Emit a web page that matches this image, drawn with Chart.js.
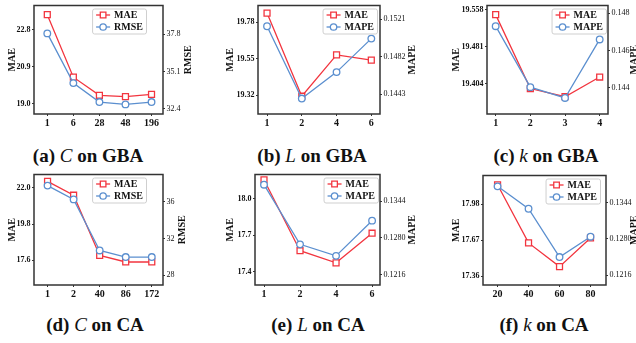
<!DOCTYPE html>
<html lang="en">
<head>
<meta charset="UTF-8" />
<title>Parameter sensitivity</title>
<script src="https://cdn.jsdelivr.net/npm/chart.js"></script>
<style>
  html, body { margin: 0; padding: 0; background: #fff; }
  body { width: 636px; height: 343px; position: relative; overflow: hidden; font-family: 'Liberation Serif', serif; }
  canvas { position: absolute; }
  .cap { position: absolute; font-weight: bold; font-size: 19px; white-space: nowrap; transform: translate(-50%, -50%); color: #111; }
  .cap i { font-weight: normal; }
</style>
</head>
<body>
  <div class="cap" style="left:88px;top:156px">(a) <i>C</i> on GBA</div>
  <div class="cap" style="left:312px;top:156px">(b) <i>L</i> on GBA</div>
  <div class="cap" style="left:546px;top:156px">(c) <i>k</i> on GBA</div>
  <div class="cap" style="left:95px;top:325px">(d) <i>C</i> on CA</div>
  <div class="cap" style="left:318px;top:325px">(e) <i>L</i> on CA</div>
  <div class="cap" style="left:544px;top:325px">(f) <i>k</i> on CA</div>

<script>
// (a) C on GBA
const catsA = ['1', '6', '28', '48', '196'];
const maeA = [23.56, 20.35, 19.42, 19.35, 19.47];
const rmseA = [37.87, 34.25, 32.87, 32.70, 32.87];
const maeTicksA = ['19.0', '20.9', '22.8'];
const rmseTicksA = ['32.4', '35.1', '37.8'];

// (b) L on GBA
const catsB = ['1', '2', '4', '6'];
const maeB = [19.838, 19.314, 19.575, 19.542];
const mapeB = [0.15135, 0.14386, 0.1466, 0.15007];
const maeTicksB = ['19.32', '19.55', '19.78'];
const mapeTicksB = ['0.1443', '0.1482', '0.1521'];

// (c) k on GBA
const catsC = ['1', '2', '3', '4'];
const maeC = [19.548, 19.394, 19.377, 19.418];
const mapeC = [0.1473, 0.14403, 0.14345, 0.14659];
const maeTicksC = ['19.404', '19.481', '19.558'];
const mapeTicksC = ['0.144', '0.146', '0.148'];

// (d) C on CA
const catsD = ['1', '2', '40', '86', '172'];
const maeD = [22.4, 21.56, 17.9, 17.5, 17.5];
const rmseD = [37.77, 36.26, 30.69, 29.97, 29.97];
const maeTicksD = ['17.6', '19.8', '22.0'];
const rmseTicksD = ['28', '32', '36'];

// (e) L on CA
const catsE = ['1', '2', '4', '6'];
const maeE = [18.153, 17.573, 17.474, 17.716];
const mapeE = [0.13727, 0.12686, 0.12485, 0.13099];
const maeTicksE = ['17.4', '17.7', '18.0'];
const mapeTicksE = ['0.1216', '0.1280', '0.1344'];

// (f) k on CA
const catsF = ['20', '40', '60', '80'];
const maeF = [18.15, 17.647, 17.442, 17.69];
const mapeF = [0.13732, 0.13335, 0.1248, 0.1284];
const maeTicksF = ['17.36', '17.67', '17.98'];
const mapeTicksF = ['0.1216', '0.1280', '0.1344'];

const RED = '#f2353f';
const BLUE = '#5b8fcf';
const FONT = "'Liberation Serif', 'DejaVu Serif', serif";

// layout of each panel: chart area [left, right, top, bottom] in page pixels
const panels = [
  { cats: catsA, mae: maeA, other: rmseA, name: 'RMSE', lt: maeTicksA, rt: rmseTicksA,
    y: [18.46, 24.03], y2: [32.0, 39.9], pad: [0.51, 0.44], area: [34, 163, 4, 114], cx: 0, cw: 212, tx: 12, rtx: 188, gap: 17 },
  { cats: catsB, mae: maeB, other: mapeB, name: 'MAPE', lt: maeTicksB, rt: mapeTicksB,
    y: [19.202, 19.886], y2: [0.14226, 0.1535], pad: [0.26, 0.25], area: [258, 380, 4, 114], cx: 212, cw: 212, tx: 230, rtx: 412, gap: 3 },
  { cats: catsC, mae: maeC, other: mapeC, name: 'MAPE', lt: maeTicksC, rt: mapeTicksC,
    y: [19.341, 19.567], y2: [0.14259, 0.14841], pad: [0.25, 0.24], area: [487, 608, 4, 114], cx: 424, cw: 240, tx: 456, rtx: 634, gap: 2 },
  { cats: catsD, mae: maeD, other: rmseD, name: 'RMSE', lt: maeTicksD, rt: rmseTicksD,
    y: [16.1, 22.82], y2: [26.92, 38.98], pad: [0.52, 0.43], area: [34, 163, 173, 285], cx: 0, cw: 212, tx: 12.5, rtx: 182, gap: 17 },
  { cats: catsE, mae: maeE, other: mapeE, name: 'MAPE', lt: maeTicksE, rt: mapeTicksE,
    y: [17.293, 18.196], y2: [0.11976, 0.13905], pad: [0.25, 0.22], area: [255, 380, 173, 285], cx: 212, cw: 212, tx: 230, rtx: 412, gap: 2 },
  { cats: catsF, mae: maeF, other: mapeF, name: 'MAPE', lt: maeTicksF, rt: mapeTicksF,
    y: [17.283, 18.23], y2: [0.11985, 0.13924], pad: [0.47, 0.5], area: [483, 606, 174, 285], cx: 424, cw: 240, tx: 456, rtx: 634, gap: 6 }
];

// frame around plot area + right axis title + legend box inside the plot
const decor = {
  id: 'decor',
  afterDatasetsDraw(chart, args, opts) {
    const { ctx, chartArea: a } = chart;
    ctx.save();
    ctx.strokeStyle = '#333';
    ctx.lineWidth = 1.5;
    ctx.strokeRect(a.left, a.top, a.right - a.left, a.bottom - a.top);

    // right axis title, reading bottom to top
    ctx.fillStyle = '#111';
    ctx.font = 'bold 10px ' + FONT;
    ctx.textAlign = 'center';
    ctx.textBaseline = 'middle';
    ctx.translate(opts.rtx, (a.top + a.bottom) / 2);
    ctx.rotate(-Math.PI / 2);
    ctx.fillText(opts.name, 0, 0);
    ctx.restore();

    // legend
    ctx.save();
    ctx.font = 'bold 10px ' + FONT;
    const sets = chart.data.datasets;
    const tw = Math.max(...sets.map(d => ctx.measureText(d.label).width));
    const w = 4 + 14 + 4 + tw + 3, h = 25;
    const x0 = a.right - opts.gap - w, y0 = a.top + 3;
    ctx.fillStyle = 'rgba(255,255,255,0.85)';
    ctx.strokeStyle = '#cfcfcf';
    ctx.lineWidth = 1;
    ctx.beginPath();
    ctx.roundRect(x0 + 0.5, y0 + 0.5, w, h, 2);
    ctx.fill();
    ctx.stroke();
    sets.forEach((d, i) => {
      const yy = y0 + 6.5 + i * 12;
      ctx.strokeStyle = d.borderColor;
      ctx.lineWidth = 1.3;
      ctx.beginPath();
      ctx.moveTo(x0 + 4, yy);
      ctx.lineTo(x0 + 18, yy);
      ctx.stroke();
      ctx.fillStyle = '#fff';
      ctx.beginPath();
      if (d.pointStyle === 'rect') ctx.rect(x0 + 11 - 2.8, yy - 2.8, 5.6, 5.6);
      else ctx.arc(x0 + 11, yy, 3.2, 0, Math.PI * 2);
      ctx.fill();
      ctx.stroke();
      ctx.fillStyle = '#111';
      ctx.textAlign = 'left';
      ctx.textBaseline = 'middle';
      ctx.fillText(d.label, x0 + 22, yy + 0.5);
    });
    ctx.restore();
  }
};

function makePanel(p) {
  const [L, R, T, B] = p.area;
  const cy = T - 4;
  const ch = B - cy + 24;
  const cv = document.createElement('canvas');
  cv.width = p.cw;
  cv.height = ch;
  cv.style.left = p.cx + 'px';
  cv.style.top = cy + 'px';
  cv.style.width = p.cw + 'px';
  cv.style.height = ch + 'px';
  document.body.appendChild(cv);

  const leftW = L - p.cx;
  const rightW = p.cx + p.cw - R;
  const xH = ch - (B - cy);
  const pts = arr => arr.map((v, i) => ({ x: i, y: v }));
  const tickGrid = { display: true, drawOnChartArea: false, drawTicks: true, tickLength: 2, color: '#333', lineWidth: 1 };

  new Chart(cv, {
    type: 'line',
    data: {
      datasets: [
        { label: 'MAE', data: pts(p.mae), yAxisID: 'y', order: 2,
          borderColor: RED, borderWidth: 1.3, pointStyle: 'rect', pointRadius: 4.2,
          pointBackgroundColor: '#fff', pointBorderColor: RED, pointBorderWidth: 1.3 },
        { label: p.name, data: pts(p.other), yAxisID: 'y2', order: 1,
          borderColor: BLUE, borderWidth: 1.3, pointStyle: 'circle', pointRadius: 3.3,
          pointBackgroundColor: '#fff', pointBorderColor: BLUE, pointBorderWidth: 1.3 }
      ]
    },
    options: {
      responsive: false,
      animation: false,
      devicePixelRatio: 1,
      layout: { padding: { top: T - cy, left: 0, right: 0, bottom: 0 } },
      plugins: {
        legend: { display: false },
        tooltip: { enabled: false },
        decor: { name: p.name, rtx: p.rtx - p.cx, gap: p.gap }
      },
      scales: {
        x: {
          type: 'linear',
          min: -p.pad[0],
          max: p.cats.length - 1 + p.pad[1],
          afterBuildTicks: s => { s.ticks = p.cats.map((c, i) => ({ value: i })); },
          afterFit: s => { s.height = xH; s.paddingLeft = 0; s.paddingRight = 0; },
          ticks: { callback: v => p.cats[v], font: { family: FONT, size: 10, weight: 'bold' }, color: '#111', padding: 1, maxRotation: 0, autoSkip: false },
          grid: tickGrid,
          border: { display: false }
        },
        y: {
          position: 'left',
          min: p.y[0], max: p.y[1],
          bounds: 'data',
          afterBuildTicks: s => { s.ticks = p.lt.map(t => ({ value: parseFloat(t) })); },
          afterFit: s => { s.width = leftW; s.paddingTop = 0; s.paddingBottom = 0; },
          ticks: { callback: (v, i) => p.lt[i], font: { family: FONT, size: 8, weight: 'bold' }, color: '#111', padding: 1.5 },
          title: { display: true, text: 'MAE', color: '#111', font: { family: FONT, size: 10, weight: 'bold' }, padding: { top: p.tx - p.cx - 6, bottom: 0 } },
          grid: tickGrid,
          border: { display: false }
        },
        y2: {
          position: 'right',
          min: p.y2[0], max: p.y2[1],
          bounds: 'data',
          afterBuildTicks: s => { s.ticks = p.rt.map(t => ({ value: parseFloat(t) })); },
          afterFit: s => { s.width = rightW; s.paddingTop = 0; s.paddingBottom = 0; },
          ticks: { callback: (v, i) => p.rt[i], font: { family: FONT, size: 8 }, color: '#111', padding: 1.5 },
          grid: tickGrid,
          border: { display: false }
        }
      }
    },
    plugins: [decor]
  });
}

panels.forEach(makePanel);
</script>
</body>
</html>
